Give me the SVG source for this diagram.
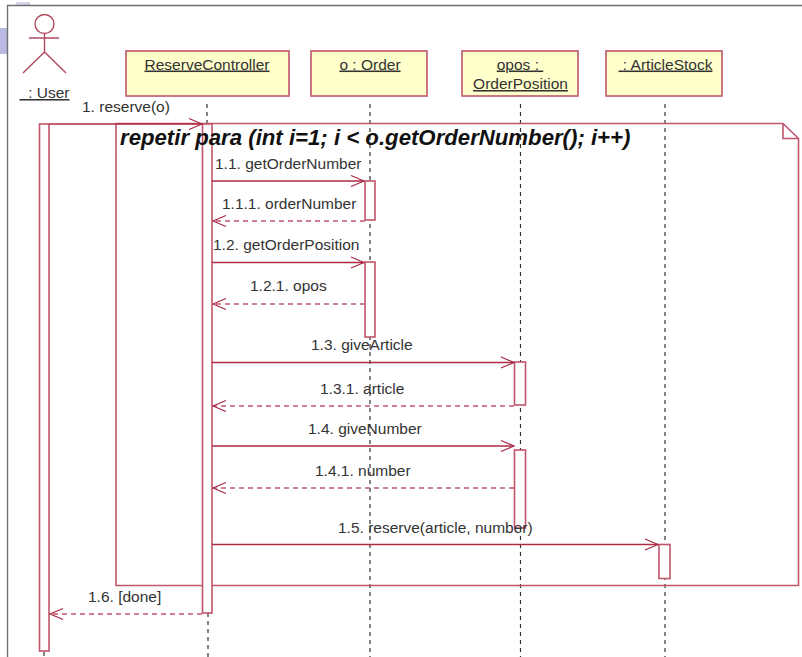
<svg xmlns="http://www.w3.org/2000/svg" width="802" height="657" viewBox="0 0 802 657">
<defs>
<marker id="arr" markerUnits="userSpaceOnUse" markerWidth="16" markerHeight="16" refX="14" refY="7" orient="auto"><path d="M1 1.500 L14 7 L1 12.500" fill="none" stroke="#a5243f" stroke-width="1.1"/></marker>
</defs>
<style>
.box{fill:#ffffcc;stroke:#c0566b;stroke-width:1.6}
.act{fill:#fff;stroke:#c0566b;stroke-width:1.6}
.frame{fill:none;stroke:#c0566b;stroke-width:1.6}
.life{stroke:#333;stroke-width:1.2;stroke-dasharray:4 4;fill:none}
.msg{stroke:#ae2a45;stroke-width:1.3;fill:none;marker-end:url(#arr)}
.ret{stroke:#c0566b;stroke-width:1.3;fill:none;stroke-dasharray:5 4;marker-end:url(#arr)}
text{font-family:"Liberation Sans",Arial,sans-serif;font-size:15.500px;fill:#333;white-space:pre}
.m{text-anchor:middle}
.u{text-decoration:underline}
.t{font-size:22.200px;font-weight:bold;font-style:italic;fill:#111}
</style>
<rect x="16" y="2" width="14" height="4" fill="#d5d5ee"/>
<rect x="0" y="28" width="7" height="26" fill="#b9b9e2"/>
<path d="M7.500 657V5.500H802" fill="none" stroke="#707070" stroke-width="1.400"/>
<g id="lifelines">
<path class="life" d="M44 652V657"/>
<path class="life" d="M207 104V123M208 613V657"/>
<path class="life" d="M370 104V657"/>
<path class="life" d="M520.500 104V657"/>
<path class="life" d="M665 104V657"/>
</g>
<g id="loop-frame">
<path class="frame" d="M116 123.500H783L798.500 138.500V585.500H116Z"/>
<path class="frame" d="M783 123.500V138.500H798.500"/>
</g>
<g id="user">
<circle cx="44.500" cy="24" r="9.500" fill="none" stroke="#b04a60" stroke-width="1.400"/>
<path d="M29 38H59M44.500 34V52M23 73L44.500 52L66 73" fill="none" stroke="#b04a60" stroke-width="1.400"/>
<text x="44.500" y="98" class="m u">  : User</text>
<rect class="act" x="39.500" y="124" width="9.500" height="527"/>
</g>
<g id="reserve-controller">
<rect class="box" x="126" y="51" width="163" height="45"/>
<text x="207" y="69.500" class="m u">ReserveController</text>
<rect class="act" x="202.500" y="124" width="9.500" height="489"/>
</g>
<g id="order">
<rect class="box" x="311" y="51" width="116" height="45"/>
<text x="370" y="69.500" class="m u">o : Order</text>
<rect class="act" x="365" y="181" width="10" height="39"/>
<rect class="act" x="365" y="262" width="10" height="75"/>
</g>
<g id="order-position">
<rect class="box" x="462" y="51" width="116" height="45"/>
<text x="520" y="69.500" class="m u">opos : </text>
<text x="520.500" y="89" class="m u">OrderPosition</text>
<rect class="act" x="514.500" y="362" width="11" height="43"/>
<rect class="act" x="514.500" y="450" width="11" height="78"/>
</g>
<g id="article-stock">
<rect class="box" x="606" y="51" width="116" height="45"/>
<text x="665.500" y="69.500" class="m u"> : ArticleStock</text>
<rect class="act" x="659" y="544.500" width="11" height="34"/>
</g>
<g id="connectors">
<path class="msg" d="M49 124H202"/>
<path class="msg" d="M212 181H364"/>
<path class="ret" d="M365 221H213"/>
<path class="msg" d="M212 262.500H364"/>
<path class="ret" d="M365 304H213"/>
<path class="msg" d="M212 362.500H514"/>
<path class="ret" d="M514 406H213"/>
<path class="msg" d="M212 446H514"/>
<path class="ret" d="M514 488H213"/>
<path class="msg" d="M212 544.500H658"/>
<path class="ret" d="M202 614H50"/>
</g>
<g id="labels">
<text x="82" y="112">1. reserve(o)</text>
<text x="120" y="145" class="t">repetir para (int i=1; i &lt; o.getOrderNumber(); i++)</text>
<text x="215" y="169">1.1. getOrderNumber</text>
<text x="222" y="209">1.1.1. orderNumber</text>
<text x="213" y="250">1.2. getOrderPosition</text>
<text x="250" y="291">1.2.1. opos</text>
<text x="311" y="350">1.3. giveArticle</text>
<text x="320" y="394">1.3.1. article</text>
<text x="308" y="434">1.4. giveNumber</text>
<text x="315" y="476">1.4.1. number</text>
<text x="338" y="533">1.5. reserve(article, number)</text>
<text x="88" y="602">1.6. [done]</text>
</g>
</svg>
